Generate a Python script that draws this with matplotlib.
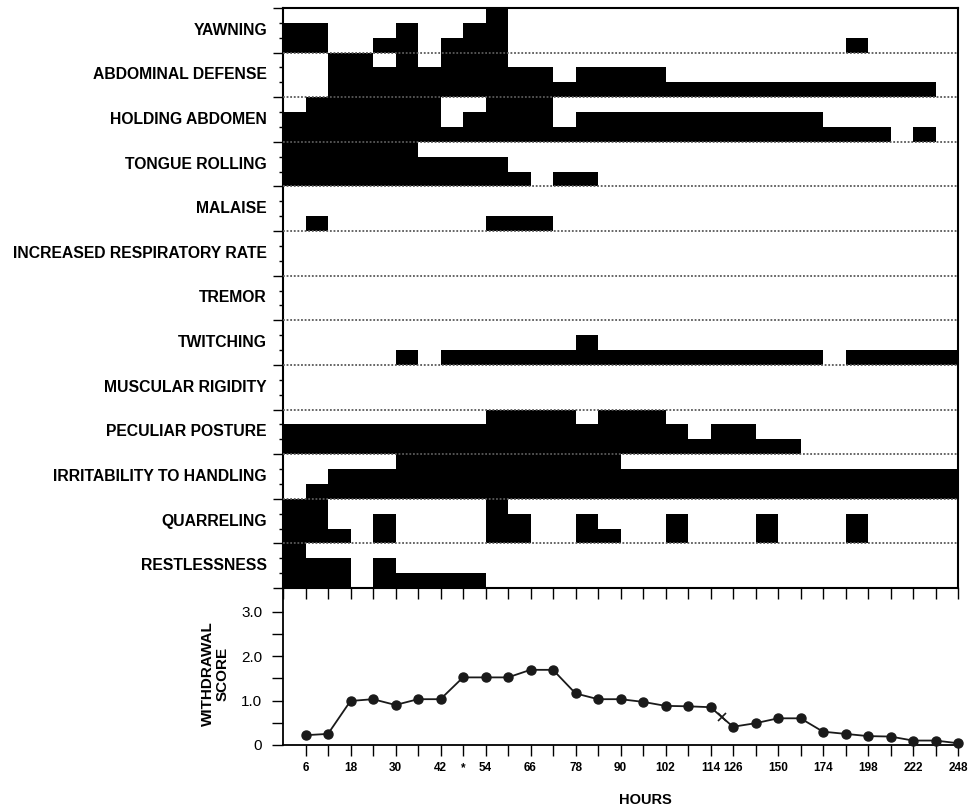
import numpy as np
import matplotlib
matplotlib.use("Agg")
import matplotlib.pyplot as plt

plt.rcParams["font.family"] = ["Liberation Sans", "DejaVu Sans"]

# %% data
behaviors = ["YAWNING", "ABDOMINAL DEFENSE", "HOLDING ABDOMEN", "TONGUE ROLLING",
             "MALAISE", "INCREASED RESPIRATORY RATE", "TREMOR", "TWITCHING",
             "MUSCULAR RIGIDITY", "PECULIAR POSTURE", "IRRITABILITY TO HANDLING",
             "QUARRELING", "RESTLESSNESS"]

yawning      = [2, 2, 0, 0, 1, 2, 0, 1, 2, 3, 0, 0, 0, 0, 0, 0, 0, 0, 0, 0, 0, 0, 0, 0, 0, 1, 0, 0, 0, 0]
abdominal    = [0, 0, 3, 3, 2, 3, 2, 3, 3, 3, 2, 2, 1, 2, 2, 2, 2, 1, 1, 1, 1, 1, 1, 1, 1, 1, 1, 1, 1, 0]
holding      = [2, 3, 3, 3, 3, 3, 3, 1, 2, 3, 3, 3, 1, 2, 2, 2, 2, 2, 2, 2, 2, 2, 2, 2, 1, 1, 1, 0, 1, 0]
tongue       = [3, 3, 3, 3, 3, 3, 2, 2, 2, 2, 1, 0, 1, 1, 0, 0, 0, 0, 0, 0, 0, 0, 0, 0, 0, 0, 0, 0, 0, 0]
malaise      = [0, 1, 0, 0, 0, 0, 0, 0, 0, 1, 1, 1, 0, 0, 0, 0, 0, 0, 0, 0, 0, 0, 0, 0, 0, 0, 0, 0, 0, 0]
respiratory  = [0] * 30
tremor       = [0] * 30
twitching    = [0, 0, 0, 0, 0, 1, 0, 1, 1, 1, 1, 1, 1, 2, 1, 1, 1, 1, 1, 1, 1, 1, 1, 1, 0, 1, 1, 1, 1, 1]
rigidity     = [0] * 30
posture      = [2, 2, 2, 2, 2, 2, 2, 2, 2, 3, 3, 3, 3, 2, 3, 3, 3, 2, 1, 2, 2, 1, 1, 0, 0, 0, 0, 0, 0, 0]
irritability = [0, 1, 2, 2, 2, 3, 3, 3, 3, 3, 3, 3, 3, 3, 3, 2, 2, 2, 2, 2, 2, 2, 2, 2, 2, 2, 2, 2, 2, 2]
quarreling   = [3, 3, 1, 0, 2, 0, 0, 0, 0, 3, 2, 0, 0, 2, 1, 0, 0, 2, 0, 0, 0, 2, 0, 0, 0, 2, 0, 0, 0, 0]
restlessness = [3, 2, 2, 0, 2, 1, 1, 1, 1, 0, 0, 0, 0, 0, 0, 0, 0, 0, 0, 0, 0, 0, 0, 0, 0, 0, 0, 0, 0, 0]

rows = [yawning, abdominal, holding, tongue, malaise, respiratory, tremor,
        twitching, rigidity, posture, irritability, quarreling, restlessness]

score = [0.22, 0.25, 0.99, 1.03, 0.90, 1.03, 1.03, 1.52, 1.52, 1.52, 1.69, 1.69, 1.16, 1.03, 1.03,
         0.97, 0.88, 0.87, 0.85, 0.41, 0.49, 0.60, 0.60, 0.30, 0.25, 0.20, 0.19, 0.10, 0.10, 0.04]

hour_labels = ["6", "", "18", "", "30", "", "42", "*", "54", "", "66", "", "78", "", "90", "",
               "102", "", "114", "126", "", "150", "", "174", "", "198", "", "222", "", "248"]

# %% figure
W, H = 968, 807
fig = plt.figure(figsize=(W / 100, H / 100), dpi=100)

left, right = 283, 958
ax = fig.add_axes([left / W, 1 - 588 / H, (right - left) / W, 580 / H])
ax2 = fig.add_axes([left / W, 1 - 745 / H, (right - left) / W, 157 / H])

n = len(rows)
x = np.arange(30)
for i, vals in enumerate(rows):
    base = 3 * (n - 1 - i)
    ax.bar(x - 1, vals, width=1.0, bottom=base, align="edge", color="black", linewidth=0)
    ax.annotate(behaviors[i], xy=(0, base + 1.5), xycoords=("axes fraction", "data"),
                xytext=(-16, 0), textcoords="offset pixels", ha="right", va="center",
                fontsize=11.3, fontweight="bold")

for yb in range(3, 3 * n, 3):
    ax.axhline(yb, color="0.35", lw=1.3, ls=(0, (1, 1)), zorder=3)

ax.set_xlim(-1, 29)
ax.set_ylim(0, 3 * n)
ax.set_yticks(np.arange(0, 3 * n + 1, 3))
ax.set_yticks(np.arange(0, 3 * n + 1, 1), minor=True)
ax.set_xticks(np.arange(-1, 30))
ax.tick_params(axis="y", which="major", length=7, width=1, direction="out", labelleft=False)
ax.tick_params(axis="y", which="minor", length=3, width=1, direction="out")
ax.tick_params(axis="x", length=8, width=1, direction="out", labelbottom=False)
for s in ax.spines.values():
    s.set_linewidth(1.5)

# withdrawal score
ax2.plot(x, score, color="#1a1a1a", lw=1.3, marker="o", ms=6.5, zorder=3, clip_on=False)
ax2.plot([18.5], [(score[18] + score[19]) / 2], marker="x", color="#1a1a1a", ms=6, mew=1.2)
ax2.set_xlim(-1, 29)
ax2.set_ylim(0, 3.53)
ax2.patch.set_alpha(0)
ax2.spines["top"].set_visible(False)
ax2.spines["right"].set_visible(False)
for s in ["left", "bottom"]:
    ax2.spines[s].set_linewidth(1.3)
ax2.set_xticks(x)
ax2.set_xticklabels(hour_labels, fontsize=8.5, fontweight="bold")
ax2.set_yticks(np.arange(0, 3.01, 0.5))
ax2.set_yticklabels(["0", "", "1.0", "", "2.0", "", "3.0"], fontsize=11)
ax2.tick_params(axis="y", length=8, width=1, pad=7)
ax2.tick_params(axis="x", length=8, width=1, pad=4)

fig.text(215 / W, 1 - 674 / H, "WITHDRAWAL\nSCORE", rotation=90, ha="center", va="center",
         multialignment="center", fontsize=11, fontweight="bold", linespacing=1.05)
fig.text(645 / W, 1 - 800 / H, "HOURS", ha="center", va="center", fontsize=10.5, fontweight="bold")

fig.savefig("out.png", dpi=100)
